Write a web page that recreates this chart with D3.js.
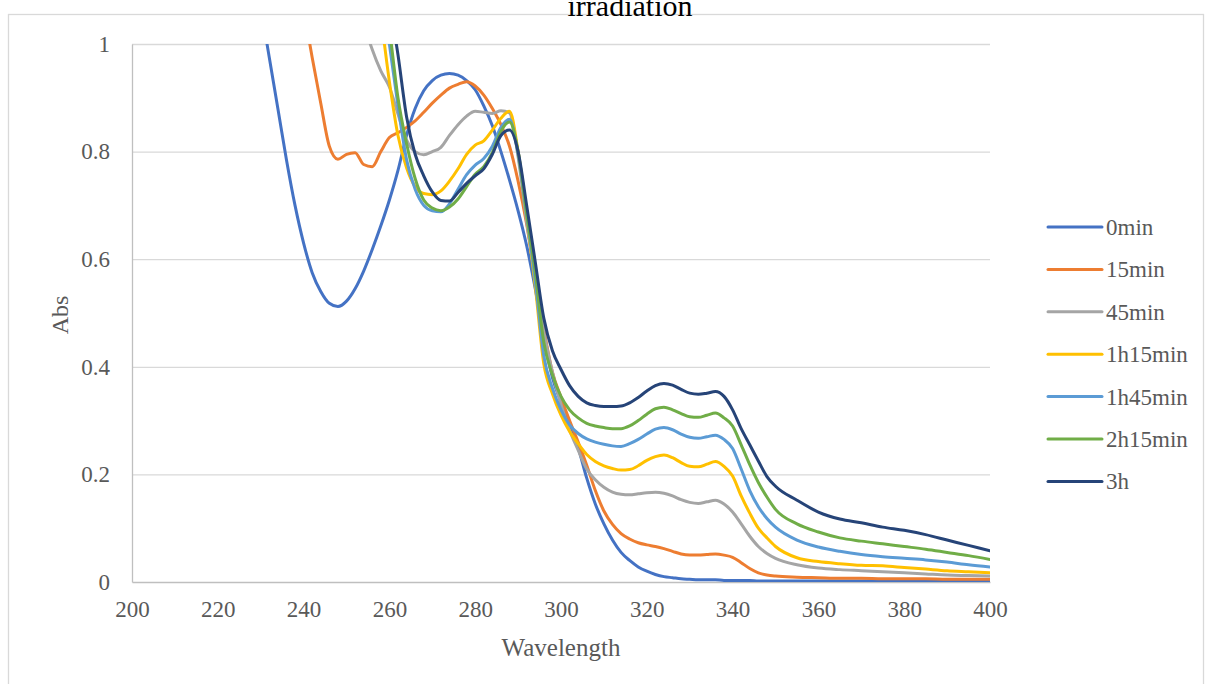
<!DOCTYPE html>
<html>
<head>
<meta charset="utf-8">
<script src="https://cdn.jsdelivr.net/npm/d3@7"></script>
<style>
  body { margin: 0; background: #fff; }
  svg { display: block; font-family: "Liberation Serif", "Times New Roman", serif; }
</style>
</head>
<body>
<svg id="chart"></svg>
<script>
// wavelength grid (nm)
var wavelengths = [230,232,234,236,238,240,242,244,246,248,250,252,254,256,258,260,262,264,266,268,
  270,272,274,276,278,280,282,284,286,288,290,292,294,296,298,300,302,304,306,308,
  310,312,314,316,318,320,322,324,326,328,330,332,334,336,338,340,342,344,346,348,
  350,355,360,365,370,375,380,385,390,395,400];

var seriesNames = ["0min", "15min", "45min", "1h15min", "1h45min", "2h15min", "3h"];
var seriesColors = ["#4472C4", "#ED7D31", "#A5A5A5", "#FFC000", "#5B9BD5", "#70AD47", "#264478"];

var abs0min = [1.07,0.975,0.88,0.785,0.70,0.63,0.575,0.54,0.518,0.512,0.522,0.545,0.578,0.618,0.662,0.71,0.765,0.83,0.88,0.913,
  0.932,0.942,0.945,0.942,0.932,0.915,0.885,0.848,0.80,0.747,0.69,0.625,0.545,0.455,0.38,0.335,0.295,0.25,0.193,0.145,
  0.108,0.078,0.055,0.04,0.028,0.02,0.014,0.01,0.008,0.006,0.005,0.004,0.004,0.004,0.003,0.003,0.003,0.003,0.002,0.002,
  0.002,0.002,0.002,0.002,0.002,0.002,0.002,0.002,0.002,0.002,0.002];
var abs15min = [null,null,null,null,1.15,1.065,0.975,0.89,0.81,0.786,0.795,0.798,0.776,0.772,0.80,0.826,0.835,0.845,0.857,0.873,
  0.89,0.905,0.918,0.925,0.93,0.922,0.905,0.88,0.85,0.81,0.745,0.665,0.565,0.47,0.39,0.343,0.30,0.26,0.217,0.17,
  0.132,0.107,0.09,0.08,0.073,0.069,0.066,0.062,0.057,0.052,0.05,0.05,0.051,0.052,0.05,0.046,0.036,0.025,0.017,0.013,
  0.011,0.009,0.008,0.007,0.007,0.006,0.006,0.006,0.005,0.005,0.005];
var abs45min = [null,null,null,null,null,null,null,null,null,null,null,1.12,1.04,0.99,0.95,0.92,0.87,0.822,0.80,0.794,
  0.80,0.808,0.83,0.85,0.866,0.875,0.873,0.871,0.876,0.872,0.79,0.67,0.565,0.465,0.39,0.33,0.282,0.245,0.21,0.19,
  0.176,0.167,0.163,0.162,0.164,0.166,0.167,0.165,0.16,0.153,0.148,0.146,0.149,0.152,0.145,0.13,0.108,0.085,0.066,0.053,
  0.044,0.032,0.026,0.023,0.021,0.019,0.017,0.015,0.013,0.012,0.011];
var abs1h15 = [null,null,null,null,null,null,null,null,null,null,null,null,null,1.15,1.05,0.93,0.83,0.77,0.735,0.722,
  0.72,0.727,0.745,0.768,0.795,0.812,0.82,0.84,0.862,0.875,0.80,0.68,0.55,0.405,0.35,0.31,0.28,0.257,0.237,0.224,
  0.216,0.211,0.208,0.209,0.216,0.226,0.233,0.236,0.231,0.222,0.215,0.214,0.219,0.224,0.215,0.197,0.16,0.128,0.1,0.082,
  0.066,0.045,0.038,0.034,0.031,0.03,0.027,0.024,0.021,0.019,0.017];
var abs1h45 = [null,null,null,null,null,null,null,null,null,null,null,null,null,null,1.12,1.0,0.885,0.785,0.73,0.70,
  0.69,0.688,0.703,0.73,0.757,0.775,0.787,0.81,0.845,0.86,0.795,0.68,0.56,0.42,0.36,0.32,0.292,0.276,0.266,0.26,
  0.256,0.253,0.252,0.257,0.265,0.275,0.284,0.287,0.283,0.275,0.269,0.267,0.27,0.273,0.265,0.248,0.21,0.17,0.14,0.118,
  0.102,0.078,0.065,0.057,0.051,0.047,0.044,0.041,0.037,0.032,0.028];
var abs2h15 = [null,null,null,null,null,null,null,null,null,null,null,null,null,null,1.15,1.03,0.9,0.815,0.75,0.71,
  0.695,0.69,0.697,0.712,0.735,0.758,0.772,0.798,0.838,0.855,0.80,0.685,0.575,0.445,0.385,0.345,0.32,0.305,0.295,0.29,
  0.287,0.285,0.285,0.29,0.30,0.312,0.322,0.325,0.32,0.313,0.307,0.306,0.31,0.314,0.305,0.29,0.255,0.218,0.185,0.158,
  0.135,0.108,0.093,0.082,0.076,0.071,0.066,0.061,0.055,0.049,0.042];
var abs3h = [null,null,null,null,null,null,null,null,null,null,null,null,null,null,1.2,1.08,0.98,0.865,0.795,0.755,
  0.725,0.709,0.708,0.724,0.741,0.755,0.768,0.795,0.83,0.84,0.80,0.70,0.595,0.49,0.43,0.395,0.365,0.345,0.333,0.328,
  0.326,0.326,0.327,0.333,0.343,0.355,0.365,0.369,0.366,0.358,0.351,0.349,0.351,0.354,0.345,0.32,0.285,0.255,0.225,0.196,
  0.178,0.152,0.13,0.117,0.11,0.102,0.096,0.088,0.078,0.068,0.058];

var seriesValues = [abs0min, abs15min, abs45min, abs1h15, abs1h45, abs2h15, abs3h];

var xTicks = [200,220,240,260,280,300,320,340,360,380,400];
var yTicks = [0,0.2,0.4,0.6,0.8,1];

var svgWidth = 1205;
var svgHeight = 684;
var margin = { top: 44, right: 215, bottom: 102, left: 132 };
var width = svgWidth - margin.left - margin.right;
var height = svgHeight - margin.top - margin.bottom;

var svg = d3.select("#chart")
  .attr("width", svgWidth)
  .attr("height", svgHeight);

// chart border
svg.append("rect")
  .attr("x", 8.5).attr("y", 14.5)
  .attr("width", 1195).attr("height", 700)
  .attr("fill", "none").attr("stroke", "#D9D9D9").attr("stroke-width", 1.3);

// title (top part falls outside the picture, as in the original)
svg.append("text")
  .attr("x", 630).attr("y", 16)
  .attr("text-anchor", "middle")
  .attr("font-size", 30)
  .attr("fill", "#000")
  .text("irradiation");

var x = d3.scaleLinear().domain([200, 400]).range([0, width]);
var y = d3.scaleLinear().domain([0, 1]).range([height, 0]);

var chartGroup = svg.append("g")
  .attr("transform", `translate(${margin.left}, ${margin.top})`);

// gridlines
chartGroup.append("g")
  .call(d3.axisLeft(y).tickValues(yTicks.slice(1)).tickSize(-width).tickFormat(""))
  .call(g => g.select(".domain").remove())
  .call(g => g.selectAll("line").attr("stroke", "#D9D9D9").attr("stroke-width", 1.3));

// y axis labels + vertical line
var yAxis = chartGroup.append("g")
  .call(d3.axisLeft(y).tickValues(yTicks).tickSize(0).tickPadding(22).tickFormat(d3.format("")));
yAxis.select(".domain").attr("stroke", "#BFBFBF").attr("stroke-width", 1.3);
yAxis.selectAll("text").attr("font-size", 23).attr("fill", "#595959")
  .attr("font-family", "Liberation Serif, serif");

// x axis
var xAxis = chartGroup.append("g")
  .attr("transform", `translate(0, ${height})`)
  .call(d3.axisBottom(x).tickValues(xTicks).tickSize(0).tickPadding(19));
xAxis.select(".domain").attr("stroke", "#BFBFBF").attr("stroke-width", 1.3);
xAxis.selectAll("text").attr("font-size", 23).attr("fill", "#595959")
  .attr("font-family", "Liberation Serif, serif");

svg.append("defs").append("clipPath").attr("id", "plotclip")
  .append("rect").attr("x", 0).attr("y", 0).attr("width", width).attr("height", height);

var line = d3.line()
  .defined(d => d[1] != null)
  .x(d => x(d[0]))
  .y(d => y(d[1]))
  .curve(d3.curveMonotoneX);

var linesGroup = chartGroup.append("g").attr("clip-path", "url(#plotclip)");
seriesValues.forEach(function(vals, i) {
  var pts = wavelengths.map((w, j) => [w, vals[j]]);
  linesGroup.append("path")
    .attr("d", line(pts))
    .attr("fill", "none")
    .attr("stroke", seriesColors[i])
    .attr("stroke-width", 3)
    .attr("stroke-linejoin", "round")
    .attr("stroke-linecap", "round");
});

// axis titles
svg.append("text")
  .attr("x", 561).attr("y", 656)
  .attr("text-anchor", "middle")
  .attr("font-size", 25)
  .attr("fill", "#595959")
  .text("Wavelength");

svg.append("text")
  .attr("transform", "translate(68, 315) rotate(-90)")
  .attr("text-anchor", "middle")
  .attr("font-size", 24)
  .attr("fill", "#595959")
  .text("Abs");

// legend
var legend = svg.append("g").attr("transform", "translate(1048, 227)");
seriesNames.forEach(function(name, i) {
  var item = legend.append("g").attr("transform", `translate(0, ${i * 42.4})`);
  item.append("line")
    .attr("x1", 0).attr("x2", 54)
    .attr("stroke", seriesColors[i])
    .attr("stroke-width", 3)
    .attr("stroke-linecap", "round");
  item.append("text")
    .attr("x", 58).attr("dy", "0.35em")
    .attr("font-size", 23)
    .attr("fill", "#595959")
    .text(name);
});
</script>
</body>
</html>
